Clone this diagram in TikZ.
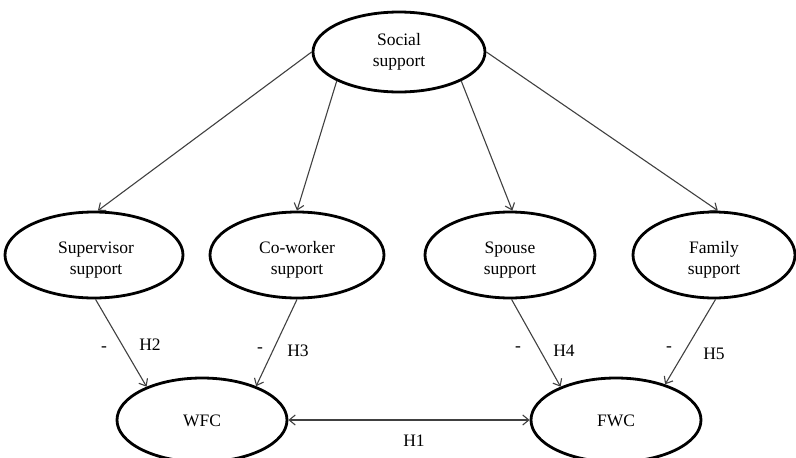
\documentclass[tikz,border=0pt]{standalone}
\usepackage{fontspec}
\setmainfont{Liberation Serif}
\usetikzlibrary{shapes.geometric,arrows.meta}
\begin{document}
\begin{tikzpicture}[x=1pt,y=-1pt,
  oval/.style={draw=black,line width=2.8pt,ellipse,inner sep=0pt},
  lbl/.style={font=\fontsize{17.5}{20.5}\selectfont,align=center,inner sep=0pt,text=black},
  conn/.style={draw=black!75,line width=1.1pt,-{Straight Barb[length=6pt,width=10pt]}},
  both/.style={draw=black!75,line width=1.1pt,{Straight Barb[length=6pt,width=10pt]}-{Straight Barb[length=6pt,width=10pt]}}
  ]
\useasboundingbox (0,0) rectangle (796,458);
% ellipses
\node[oval,minimum width=172pt,minimum height=80pt] (social) at (399,52) {};
\node[oval,minimum width=178pt,minimum height=86pt] (sup) at (94,255) {};
\node[oval,minimum width=174pt,minimum height=86pt] (cw) at (297,255) {};
\node[oval,minimum width=170pt,minimum height=86pt] (sp) at (510,255) {};
\node[oval,minimum width=162pt,minimum height=86pt] (fam) at (714,255) {};
\node[oval,minimum width=170pt,minimum height=84pt] (wfc) at (202,420) {};
\node[oval,minimum width=170pt,minimum height=84pt] (fwc) at (616,420) {};
% texts
\node[lbl] (socialt) at (399,52) {Social\\support};
\node[lbl] (supt) at (96,260) {Supervisor\\support};
\node[lbl] (cwt) at (297,260) {Co-worker\\support};
\node[lbl] (spt) at (510,260) {Spouse\\support};
\node[lbl] (famt) at (714,260) {Family\\support};
\node[lbl] (wfct) at (202,421) {WFC};
\node[lbl] (fwct) at (616,421) {FWC};
% top arrows
\draw[conn] (social.west) -- (sup.85);
\draw[conn] (social.205) -- (cw.north);
\draw[conn] (social.335) -- (sp.87);
\draw[conn] (social.east) -- (fam.85);
% bottom arrows
\draw[conn] (sup.272) -- (wfc.149);
\draw[conn] (cw.south) -- (wfc.32);
\draw[conn] (sp.272) -- (fwc.149);
\draw[conn] (fam.272) -- (fwc.36);
% H1
\draw[both] (wfc.east) -- (fwc.west);
% labels
\node[lbl] (m2) at (104,349) {-};
\node[lbl] (h2) at (150,345) {H2};
\node[lbl] (m3) at (260,350) {-};
\node[lbl] (h3) at (298,351) {H3};
\node[lbl] (m4) at (518,349) {-};
\node[lbl] (h4) at (564,351) {H4};
\node[lbl] (m5) at (669,349) {-};
\node[lbl] (h5) at (714,354) {H5};
\node[lbl] (h1) at (414,441) {H1};
\end{tikzpicture}
\end{document}
